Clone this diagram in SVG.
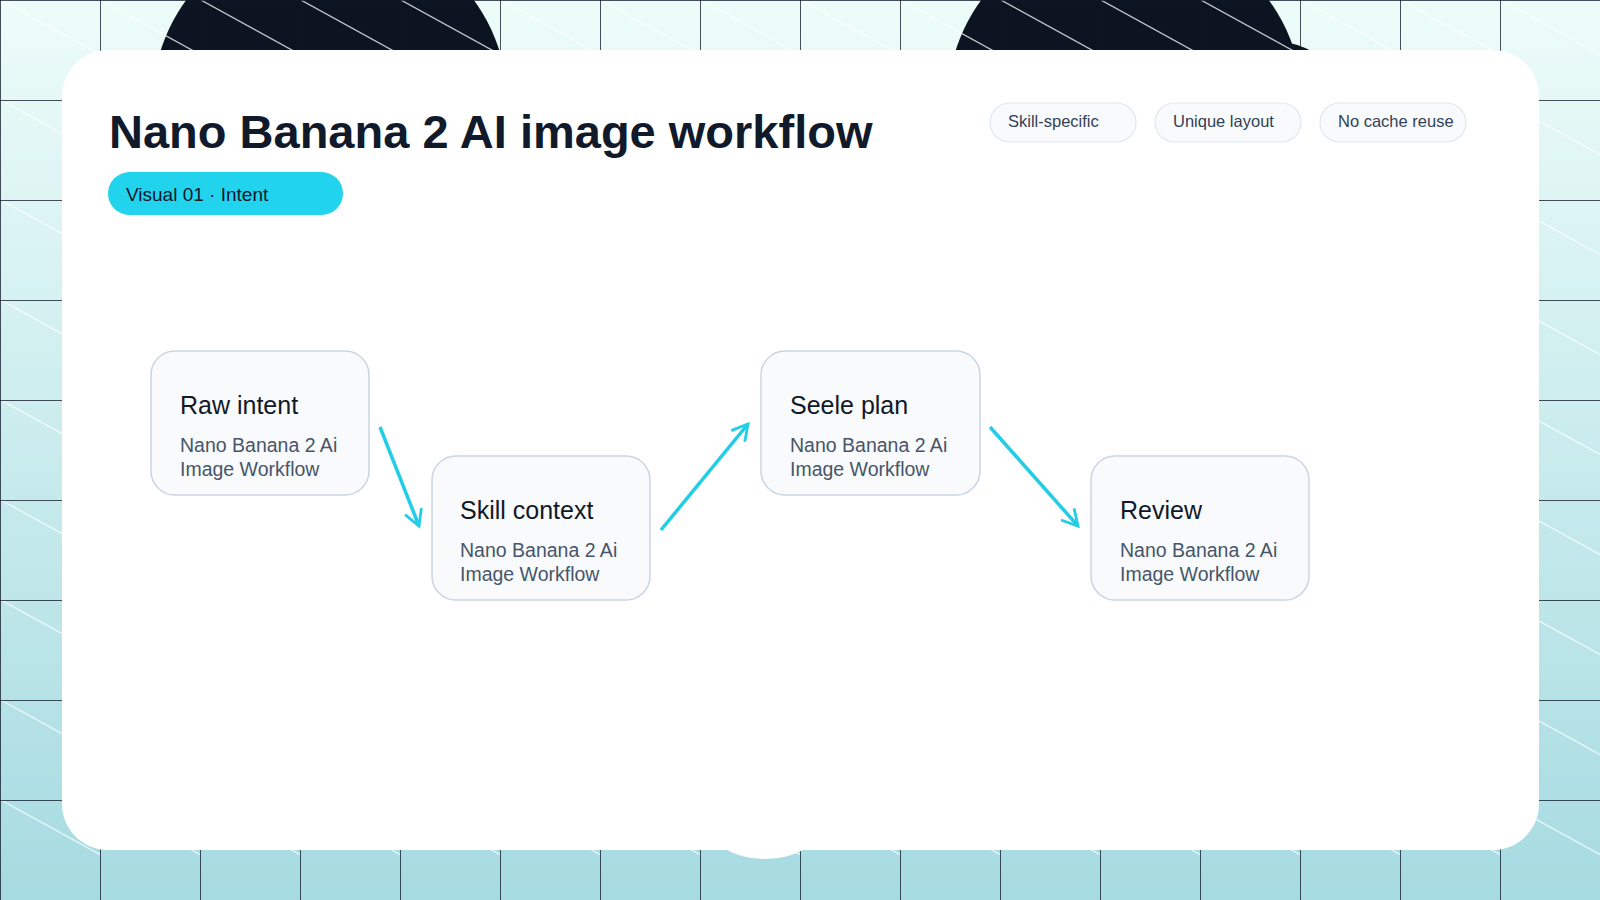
<svg xmlns="http://www.w3.org/2000/svg" width="1600" height="900" viewBox="0 0 1600 900">
<defs>
<linearGradient id="bg" x1="0" y1="0" x2="0" y2="1"><stop offset="0" stop-color="#edfcf9"/><stop offset="1" stop-color="#a6dbe1"/></linearGradient>
<pattern id="diag" patternUnits="userSpaceOnUse" width="100" height="100"><line x1="-10" y1="-6" x2="110" y2="60" stroke="#ffffff" stroke-width="1.3" stroke-opacity="0.75"/></pattern>
<pattern id="grid" patternUnits="userSpaceOnUse" width="100" height="100"><path d="M0 0V100M0 0H100" fill="none" stroke="#0d1626" stroke-width="1.5"/></pattern>
<marker id="ah" viewBox="0 0 12 12" refX="10" refY="6" markerWidth="6" markerHeight="6" orient="auto" markerUnits="strokeWidth"><path d="M1 1L10 6L1 11" fill="none" stroke="#22cde6" stroke-width="1.6"/></marker>
<style>
.node rect{fill:#f8fafc;stroke:#cbd5e1;stroke-width:1.5}
.t{font-family:"Liberation Sans",Arial,sans-serif;font-size:25px;fill:#111827}
.s{font-family:"Liberation Sans",Arial,sans-serif;font-size:19.5px;fill:#475569}
.tag rect{fill:#f8fafc;stroke:#e2e8f0;stroke-width:1.2}
.tag text{font-family:"Liberation Sans",Arial,sans-serif;font-size:16.5px;fill:#334155}
.conn line{stroke:#22cde6;stroke-width:3.5;marker-end:url(#ah)}
</style>
</defs>
<rect width="1600" height="900" fill="url(#bg)"/>
<circle cx="330" cy="105" r="178" fill="#0c1422"/>
<circle cx="1125" cy="105" r="178" fill="#0c1422"/>
<circle cx="1265" cy="145" r="105" fill="#0c1422"/>
<rect width="1600" height="900" fill="url(#diag)"/>
<rect width="1600" height="900" fill="url(#grid)"/>
<rect x="62" y="50" width="1477" height="800" rx="46" fill="#ffffff"/>
<ellipse cx="765" cy="822" rx="58" ry="37" fill="#ffffff"/>
<text x="109" y="148" font-family="Liberation Sans,Arial,sans-serif" font-size="47" font-weight="bold" fill="#111a2b">Nano Banana 2 AI image workflow</text>
<g id="pill"><rect x="108" y="172" width="235" height="43" rx="21.5" fill="#22d3ee"/><text x="126" y="201" font-family="Liberation Sans,Arial,sans-serif" font-size="19" fill="#0f172a">Visual 01 · Intent</text></g>
<g id="tag1" class="tag"><rect x="990" y="103" width="146" height="39" rx="19.5"/><text x="1008" y="127">Skill-specific</text></g>
<g id="tag2" class="tag"><rect x="1155" y="103" width="146" height="39" rx="19.5"/><text x="1173" y="127">Unique layout</text></g>
<g id="tag3" class="tag"><rect x="1320" y="103" width="146" height="39" rx="19.5"/><text x="1338" y="127">No cache reuse</text></g>
<g id="n1" class="node"><rect x="151" y="351" width="218" height="144" rx="24"/><text class="t" x="180" y="414">Raw intent</text><text class="s" x="180" y="452">Nano Banana 2 Ai</text><text class="s" x="180" y="476">Image Workflow</text></g>
<g id="n2" class="node"><rect x="432" y="456" width="218" height="144" rx="24"/><text class="t" x="460" y="519">Skill context</text><text class="s" x="460" y="557">Nano Banana 2 Ai</text><text class="s" x="460" y="581">Image Workflow</text></g>
<g id="n3" class="node"><rect x="761" y="351" width="219" height="144" rx="24"/><text class="t" x="790" y="414">Seele plan</text><text class="s" x="790" y="452">Nano Banana 2 Ai</text><text class="s" x="790" y="476">Image Workflow</text></g>
<g id="n4" class="node"><rect x="1091" y="456" width="218" height="144" rx="24"/><text class="t" x="1120" y="519">Review</text><text class="s" x="1120" y="557">Nano Banana 2 Ai</text><text class="s" x="1120" y="581">Image Workflow</text></g>
<g id="connectors" class="conn">
<line x1="380" y1="427" x2="419" y2="526"/>
<line x1="661" y1="530" x2="748" y2="424"/>
<line x1="990" y1="427" x2="1078" y2="526"/>
</g>
</svg>
